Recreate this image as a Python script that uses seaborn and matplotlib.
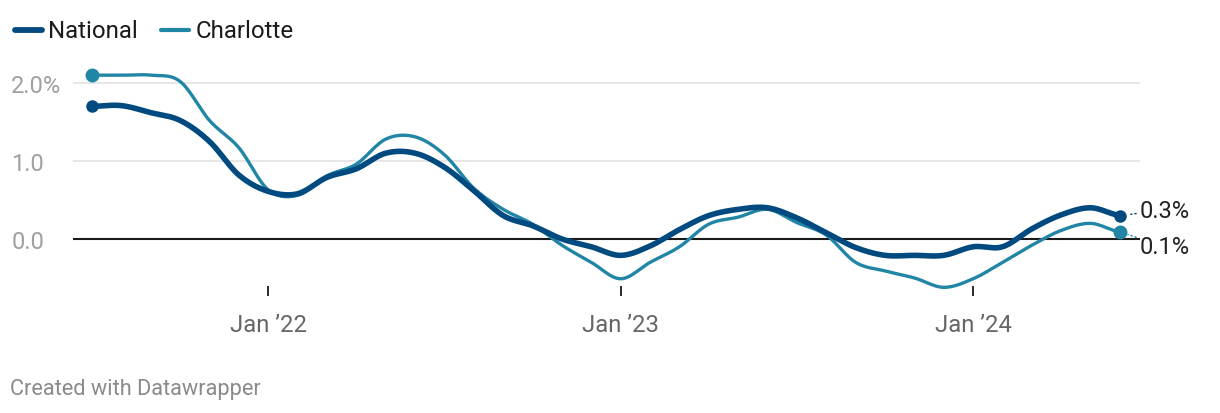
import numpy as np
import pandas as pd
import matplotlib
matplotlib.use("Agg")
import matplotlib.pyplot as plt
import seaborn as sns
from matplotlib.lines import Line2D

# ---- data (monthly, Jul 2021 .. Jun 2024) ----
months = pd.date_range("2021-07-01", "2024-06-01", freq="MS")
national = [1.70, 1.71, 1.62, 1.52, 1.25, 0.82, 0.61, 0.58, 0.79, 0.90, 1.10, 1.10,
            0.92, 0.62, 0.30, 0.17, 0.00, -0.10, -0.21, -0.09, 0.12, 0.30, 0.38, 0.40,
            0.27, 0.08, -0.11, -0.21, -0.21, -0.21, -0.10, -0.10, 0.13, 0.31, 0.40, 0.30]
charlotte = [2.10, 2.10, 2.10, 2.02, 1.52, 1.17, 0.63, 0.56, 0.81, 0.96, 1.28, 1.31,
             1.08, 0.65, 0.38, 0.19, -0.08, -0.30, -0.51, -0.30, -0.10, 0.19, 0.28, 0.38,
             0.21, 0.05, -0.30, -0.41, -0.50, -0.62, -0.51, -0.30, -0.08, 0.11, 0.20, 0.09]
series_names = ["National", "Charlotte"]
end_labels = ["0.3%", "0.1%"]
x_tick_idx = [6, 18, 30]
x_tick_labels = ["Jan \u201922", "Jan \u201923", "Jan \u201924"]
y_ticks = [0.0, 1.0, 2.0]
y_tick_labels = ["0.0", "1.0", "2.0%"]

colors = {"National": "#004a80", "Charlotte": "#2185a5"}
widths = {"National": 4.0, "Charlotte": 2.4}


def smooth(x, y, n=14):
    """Catmull-Rom rendering of the line through the data points."""
    x = np.asarray(x, float); y = np.asarray(y, float)
    yp = np.concatenate([[y[0]], y, [y[-1]]])
    xs, ys = [], []
    for k in range(len(y) - 1):
        p0, p1, p2, p3 = yp[k], yp[k + 1], yp[k + 2], yp[k + 3]
        t = np.linspace(0, 1, n, endpoint=False)
        v = 0.5 * (2 * p1 + (-p0 + p2) * t + (2 * p0 - 5 * p1 + 4 * p2 - p3) * t**2
                   + (-p0 + 3 * p1 - 3 * p2 + p3) * t**3)
        xs.append(x[k] + t * (x[k + 1] - x[k])); ys.append(v)
    xs.append([x[-1]]); ys.append([y[-1]])
    return np.concatenate(xs), np.concatenate(ys)


idx = np.arange(len(months))
rows = []
for name, vals in zip(series_names, [national, charlotte]):
    sx, sy = smooth(idx, vals)
    rows.append(pd.DataFrame({"x": sx, "y": sy, "series": name}))
df = pd.concat(rows, ignore_index=True)

sns.set_theme(style="white")
plt.rcParams["font.family"] = ["Roboto", "DejaVu Sans"]

W, H = 1220, 414
fig = plt.figure(figsize=(W / 100, H / 100), dpi=100)
ax = fig.add_axes([73 / W, 1 - 287 / H, (1140 - 73) / W, (287 - 68.4) / H])

# gridlines
for yv in [1.0, 2.0]:
    ax.axhline(yv, color="#e5e5e5", lw=1.3, zorder=0)
ax.axhline(0.0, color="#1a1a1a", lw=1.5, zorder=1)

for name in ["Charlotte", "National"]:
    sub = df[df["series"] == name]
    sns.lineplot(data=sub, x="x", y="y", ax=ax, color=colors[name], lw=widths[name],
                 sort=False, estimator=None, legend=False,
                 zorder=3 if name == "National" else 2,
                 solid_capstyle="round", solid_joinstyle="round", clip_on=False)

# start/end markers
for name, vals, ms in [("Charlotte", charlotte, 10), ("National", national, 9)]:
    ax.plot([idx[0], idx[-1]], [vals[0], vals[-1]], "o", color=colors[name], ms=ms,
            zorder=4, clip_on=False, mec="none")

# end labels with dotted leaders
ax.annotate(end_labels[0], xy=(idx[-1], national[-1]), xytext=(14, 4),
            textcoords="offset points", ha="left", va="center", fontsize=17, color="#222222",
            arrowprops=dict(arrowstyle="-", linestyle=(0, (1, 2)), color=colors["National"],
                            lw=1.0, shrinkA=0, shrinkB=6))
ax.annotate(end_labels[1], xy=(idx[-1], charlotte[-1]), xytext=(14, -10.5),
            textcoords="offset points", ha="left", va="center", fontsize=17, color="#222222",
            arrowprops=dict(arrowstyle="-", linestyle=(0, (1, 2)), color=colors["Charlotte"],
                            lw=1.0, shrinkA=0, shrinkB=6))

ax.set_xlim((73 - 92) / (1028 / 35), (1140 - 92) / (1028 / 35))
ax.set_ylim(-0.603, 2.2)
ax.set_xticks(x_tick_idx)
ax.set_xticklabels(x_tick_labels, fontsize=17.2, color="#666666")
ax.set_yticks(y_ticks)
ax.set_yticklabels(y_tick_labels, fontsize=17, color="#a0a0a0")
ax.tick_params(axis="x", bottom=True, direction="out", length=7.5, width=1.3,
               color="#1a1a1a", pad=12)
ax.tick_params(axis="y", left=False, length=0, pad=44.5)
for lab in ax.get_yticklabels():
    lab.set_horizontalalignment("left")
ax.set_xlabel(""); ax.set_ylabel("")
for s in ax.spines.values():
    s.set_visible(False)

# legend (top-left)
def fx(px): return px / W
def fy(py): return 1 - py / H
fig.add_artist(Line2D([fx(15), fx(42)], [fy(31), fy(31)], color=colors["National"], lw=4.2,
                      solid_capstyle="round"))
fig.text(fx(48), fy(31), "National", fontsize=17.3, color="#1a1a1a", va="center", ha="left")
fig.add_artist(Line2D([fx(161), fx(189)], [fy(31), fy(31)], color=colors["Charlotte"], lw=3.0,
                      solid_capstyle="round"))
fig.text(fx(196), fy(31), "Charlotte", fontsize=17.3, color="#1a1a1a", va="center", ha="left")

fig.text(fx(10), fy(390), "Created with Datawrapper", fontsize=15.7, color="#8a8a8a",
         va="center", ha="left")

fig.savefig("out.png", dpi=100, facecolor="white")
